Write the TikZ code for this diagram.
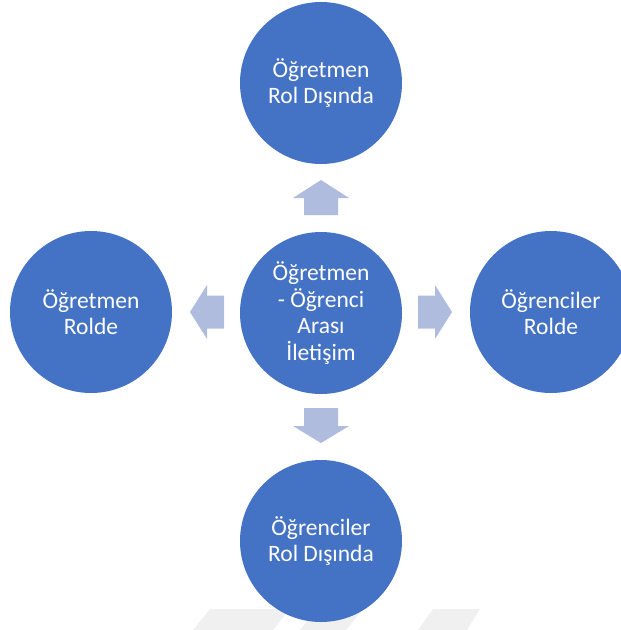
\documentclass[tikz,border=0pt]{standalone}
\usepackage{fontspec}
\setmainfont{Carlito}
\definecolor{circblue}{HTML}{4472C4}
\definecolor{arrblue}{HTML}{B0BCDE}
\definecolor{wmgrey}{HTML}{F0F0F0}
\begin{document}
\begin{tikzpicture}[x=1pt,y=-1pt,
  bubble/.style={circle,fill=circblue,draw=none,minimum size=162pt,inner sep=0pt,
    text=white,align=center,font=\fontsize{23.5}{26.5}\selectfont},
  blockarrow/.style={fill=arrblue,draw=none}]
\useasboundingbox (0,0) rectangle (621,630);
\clip (0,0) rectangle (621,630);
% faint watermark shapes
\fill[wmgrey] (193,630) -- (210,609) -- (290,609) -- (273,630) -- cycle;
\fill[wmgrey] (300,630) -- (317,609) -- (363,609) -- (346,630) -- cycle;
\fill[wmgrey] (418,630) -- (433,609) -- (480,609) -- (467,630) -- cycle;
% circles
\node[bubble] (c) at (321,313) {Öğretmen\\- Öğrenci\\Arası\\İletişim};
\node[bubble] (t) at (321,83) {Öğretmen\\Rol Dışında};
\node[bubble] (l) at (91,312) {Öğretmen\\Rolde};
\node[bubble] (r) at (551,312) {Öğrenciler\\Rolde};
\node[bubble] (b) at (321,541) {Öğrenciler\\Rol Dışında};
% block arrows
\fill[blockarrow] (321,180) -- (349,198) -- (338,198) -- (338,215) -- (304,215) -- (304,198) -- (293,198) -- cycle;
\fill[blockarrow] (190,312) -- (207,285) -- (207,295.5) -- (224,295.5) -- (224,328.5) -- (207,328.5) -- (207,339) -- cycle;
\fill[blockarrow] (452,312) -- (435,285) -- (435,295.5) -- (418,295.5) -- (418,328.5) -- (435,328.5) -- (435,339) -- cycle;
\fill[blockarrow] (321,443) -- (349,426) -- (338,426) -- (338,408) -- (304,408) -- (304,426) -- (293,426) -- cycle;
\end{tikzpicture}
\end{document}
